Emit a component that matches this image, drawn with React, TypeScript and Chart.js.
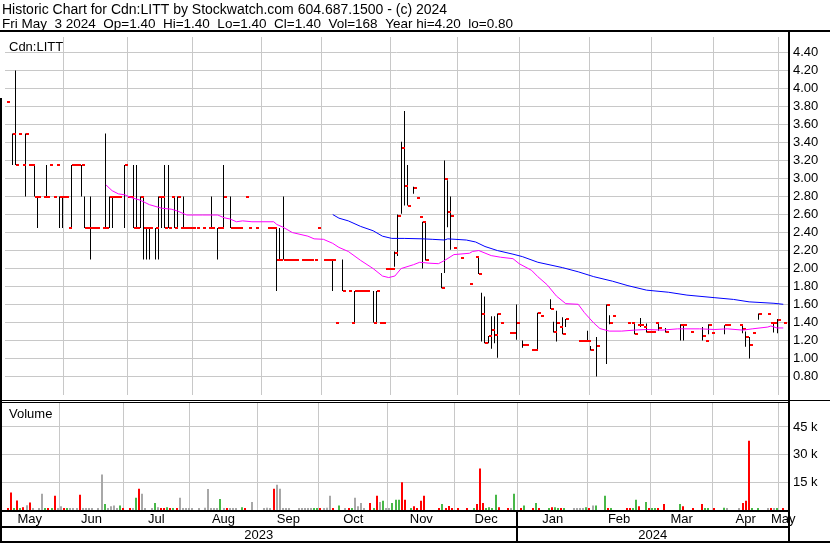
import React, { useEffect, useRef } from 'react';
import { Chart, registerables } from 'chart.js';

Chart.register(...registerables);

const FONT = '"Liberation Sans", Arial, sans-serif';

const headerLine1 = 'Historic Chart for Cdn:LITT by Stockwatch.com 604.687.1500 - (c) 2024';
const headerLine2 = 'Fri May  3 2024  Op=1.40  Hi=1.40  Lo=1.40  Cl=1.40  Vol=168  Year hi=4.20  lo=0.80';
const symbolLabel = 'Cdn:LITT';
const volumeLabel = 'Volume';

// x axis: trading-day index
const xMin = -0.48;
const xMax = 251.52;
const monthLabels = ['May', 'Jun', 'Jul', 'Aug', 'Sep', 'Oct', 'Nov', 'Dec', 'Jan', 'Feb', 'Mar', 'Apr', 'May'];
const monthStarts = [18.5, 39, 60, 82, 101.5, 123.5, 145, 165, 187.5, 207.5, 227.5, 248.5];
const yearLabels = ['2023', '2024'];
const yearStarts = [165];

// price axis
const priceMin = 0.595;
const priceMax = 4.573;
const priceTicks = [0.8, 1.0, 1.2, 1.4, 1.6, 1.8, 2.0, 2.2, 2.4, 2.6, 2.8, 3.0, 3.2, 3.4, 3.6, 3.8, 4.0, 4.2, 4.4];

// volume axis
const volMax = 58000;
const volTicks = [15000, 30000, 45000];

// daily bars
const barDay = [
  0, 2, 3, 4, 5, 6, 7, 8, 9, 10,
  12, 13, 14, 15, 16, 17, 18, 19, 20, 21,
  22, 23, 24, 25, 26, 27, 28, 29, 31, 32,
  33, 34, 35, 36, 38, 39, 40, 41, 42, 43,
  44, 45, 46, 48, 49, 50, 51, 52, 53, 54,
  55, 56, 57, 58, 59, 60, 61, 63, 65, 66,
  68, 69, 70, 72, 73, 74, 75, 77, 78, 80,
  84, 85, 86, 87, 88, 89, 90, 91, 92, 93,
  95, 96, 97, 98, 99, 100, 102, 103, 104, 105,
  106, 108, 110, 111, 112, 113, 114, 115, 116, 118,
  119, 120, 121, 122, 123, 124, 125, 126, 127, 128,
  129, 131, 132, 133, 134, 135, 140, 141, 142, 143,
  144, 146, 149, 151, 152, 153, 154, 155, 156, 157,
  158, 159, 162, 163, 164, 166, 167, 169, 170, 171,
  172, 175, 176, 177, 178, 179, 180, 184, 185, 186,
  187, 188, 190, 193, 194, 195, 200, 201, 202, 203,
  204, 205, 206, 207, 208, 209, 210, 212, 217, 218,
  220, 224, 225, 226, 227, 231, 232, 236, 237, 238,
  239, 240, 242, 245, 246, 247, 248, 250,
];
const barHigh = [
  3.85, 3.5, 4.2, 3.5, 3.15, 3.5, 3.15, 3.15, 3.15, 2.8,
  2.8, 3.15, 3.15, 2.8, 3.15, 2.8, 2.8, 2.8, 2.45, 3.15,
  3.15, 3.15, 3.15, 2.8, 2.45, 2.8, 2.45, 2.45, 2.45, 3.5,
  2.8, 2.8, 2.8, 2.8, 3.15, 2.8, 2.8, 3.15, 3.15, 2.8,
  2.8, 2.45, 2.45, 2.45, 2.8, 2.8, 3.15, 3.15, 2.8, 2.8,
  2.8, 2.45, 2.8, 2.45, 2.45, 2.45, 2.45, 2.45, 2.45, 2.8,
  2.45, 2.45, 3.15, 2.8, 2.45, 2.45, 2.45, 2.8, 2.45, 2.45,
  2.45, 2.45, 2.45, 2.45, 2.45, 2.8, 2.1, 2.1, 2.1, 2.1,
  2.1, 2.1, 2.1, 2.1, 2.1, 2.45, 2.1, 2.1, 2.1, 2.1,
  1.4, 2.1, 1.75, 1.4, 1.75, 1.75, 1.75, 1.75, 1.75, 1.75,
  1.75, 1.4, 1.4, 2.0, 2.0, 2.0, 2.19, 2.6, 3.41, 3.75,
  3.15, 2.91, 2.78, 2.57, 2.52, 2.52, 1.95, 3.2, 2.98, 2.8,
  2.23, 2.12, 1.83, 2.13, 2.14, 1.73, 1.69, 1.25, 1.47, 1.47,
  1.5, 1.39, 1.28, 1.28, 1.6, 1.2, 1.15, 1.09, 1.09, 1.51,
  1.47, 1.66, 1.41, 1.53, 1.35, 1.46, 1.44, 1.19, 1.19, 1.19,
  1.31, 1.14, 1.24, 1.6, 1.48, 1.47, 1.39, 1.39, 1.39, 1.37,
  1.45, 1.35, 1.39, 1.29, 1.29, 1.39, 1.39, 1.34, 1.38, 1.38,
  1.29, 1.35, 1.2, 1.38, 1.28, 1.37, 1.37, 1.37, 1.37, 1.3,
  1.24, 1.28, 1.5, 1.5, 1.39, 1.39, 1.44, 1.4,
];
const barLow = [
  3.85, 3.15, 3.15, 3.5, 3.15, 2.8, 3.15, 3.15, 2.8, 2.45,
  2.8, 2.8, 3.15, 2.8, 3.15, 2.45, 2.45, 2.8, 2.45, 2.45,
  3.15, 3.15, 2.8, 2.45, 2.45, 2.1, 2.45, 2.45, 2.45, 2.45,
  2.45, 2.45, 2.8, 2.8, 2.45, 2.8, 2.8, 2.45, 2.45, 2.45,
  2.1, 2.1, 2.1, 2.1, 2.1, 2.45, 2.45, 2.45, 2.8, 2.45,
  2.45, 2.45, 2.45, 2.45, 2.45, 2.45, 2.45, 2.45, 2.45, 2.45,
  2.1, 2.45, 2.45, 2.45, 2.45, 2.45, 2.45, 2.8, 2.45, 2.45,
  2.45, 2.45, 2.45, 1.75, 2.1, 2.1, 2.1, 2.1, 2.1, 2.1,
  2.1, 2.1, 2.1, 2.1, 2.1, 2.45, 2.1, 2.1, 2.1, 1.75,
  1.4, 1.75, 1.75, 1.4, 1.4, 1.75, 1.75, 1.75, 1.75, 1.4,
  1.4, 1.4, 1.4, 2.0, 2.0, 2.0, 2.02, 2.14, 2.61, 2.7,
  2.7, 2.83, 2.78, 2.57, 2.0, 2.09, 1.78, 1.95, 2.46, 2.21,
  2.23, 2.12, 1.83, 2.13, 1.94, 1.19, 1.17, 1.17, 1.11, 1.17,
  1.01, 1.39, 1.28, 1.28, 1.21, 1.12, 1.15, 1.09, 1.09, 1.09,
  1.47, 1.55, 1.29, 1.19, 1.35, 1.27, 1.35, 1.19, 1.19, 1.19,
  1.19, 1.09, 0.8, 0.94, 1.38, 1.47, 1.39, 1.39, 1.27, 1.37,
  1.35, 1.35, 1.29, 1.29, 1.29, 1.39, 1.31, 1.29, 1.2, 1.2,
  1.29, 1.2, 1.2, 1.27, 1.28, 1.27, 1.37, 1.37, 1.28, 1.13,
  1.0, 1.28, 1.43, 1.5, 1.39, 1.29, 1.28, 1.4,
];
const barClose = [
  3.85, 3.5, 3.15, 3.5, 3.15, 3.5, 3.15, 3.15, 2.8, 2.8,
  2.8, 2.8, 3.15, 2.8, 3.15, 2.8, 2.8, 2.8, 2.45, 3.15,
  3.15, 3.15, 3.15, 2.45, 2.45, 2.45, 2.45, 2.45, 2.45, 2.45,
  2.8, 2.8, 2.8, 2.8, 3.15, 2.8, 2.8, 2.45, 2.45, 2.8,
  2.45, 2.45, 2.45, 2.45, 2.8, 2.8, 2.45, 2.45, 2.8, 2.45,
  2.8, 2.45, 2.45, 2.45, 2.45, 2.45, 2.45, 2.45, 2.45, 2.45,
  2.45, 2.45, 2.8, 2.45, 2.45, 2.45, 2.45, 2.8, 2.45, 2.45,
  2.45, 2.45, 2.45, 2.1, 2.1, 2.1, 2.1, 2.1, 2.1, 2.1,
  2.1, 2.1, 2.1, 2.1, 2.1, 2.45, 2.1, 2.1, 2.1, 2.1,
  1.4, 1.75, 1.75, 1.4, 1.75, 1.75, 1.75, 1.75, 1.75, 1.4,
  1.75, 1.4, 1.4, 2.0, 2.0, 2.0, 2.17, 2.58, 3.34, 2.92,
  2.7, 2.9, 2.78, 2.57, 2.52, 2.09, 1.78, 2.99, 2.63, 2.58,
  2.23, 2.12, 1.83, 2.13, 1.94, 1.5, 1.17, 1.25, 1.32, 1.26,
  1.5, 1.39, 1.28, 1.28, 1.39, 1.15, 1.15, 1.09, 1.09, 1.51,
  1.47, 1.55, 1.3, 1.39, 1.35, 1.27, 1.44, 1.19, 1.19, 1.19,
  1.19, 1.1, 1.14, 1.6, 1.39, 1.47, 1.39, 1.39, 1.27, 1.37,
  1.37, 1.35, 1.29, 1.29, 1.29, 1.39, 1.34, 1.29, 1.37, 1.37,
  1.29, 1.25, 1.2, 1.37, 1.28, 1.37, 1.37, 1.37, 1.33, 1.24,
  1.15, 1.28, 1.5, 1.5, 1.39, 1.39, 1.43, 1.4,
];

// moving averages
const maFastDay = [32, 34, 36, 38, 40, 43, 46, 50, 53, 55, 58, 63, 68, 70, 72, 74, 76, 79, 86, 87, 89, 92, 97, 99, 102, 105, 107, 110, 114, 118, 121, 123, 125, 127, 131, 133, 136, 139, 141, 144, 149, 150, 152, 156, 159, 163, 165, 169, 171, 174, 177, 180, 184, 186, 189, 191, 194, 198, 202, 206, 211, 216, 223, 228, 232, 237, 240, 245, 246, 248, 250];
const maFastValue = [2.93, 2.865, 2.83, 2.82, 2.79, 2.76, 2.71, 2.67, 2.66, 2.64, 2.595, 2.595, 2.595, 2.565, 2.55, 2.52, 2.53, 2.52, 2.52, 2.49, 2.46, 2.4, 2.36, 2.33, 2.325, 2.28, 2.235, 2.19, 2.09, 2.0, 1.917, 1.9, 1.917, 2.0, 2.043, 2.07, 2.06, 2.054, 2.09, 2.155, 2.17, 2.19, 2.2, 2.144, 2.126, 2.11, 2.054, 1.98, 1.91, 1.82, 1.694, 1.61, 1.603, 1.51, 1.395, 1.333, 1.305, 1.305, 1.316, 1.323, 1.316, 1.33, 1.33, 1.323, 1.33, 1.316, 1.33, 1.35, 1.362, 1.34, 1.34];
const maSlowDay = [105, 107, 110, 114, 118, 121, 124, 128, 134, 137, 141, 142, 148, 151, 154, 158, 163, 166, 171, 179, 184, 189, 195, 200, 206, 213, 219, 228, 234, 239, 247, 250];
const maSlowValue = [2.6, 2.56, 2.53, 2.468, 2.42, 2.36, 2.335, 2.335, 2.33, 2.325, 2.317, 2.33, 2.317, 2.295, 2.245, 2.2, 2.16, 2.133, 2.07, 2.01, 1.964, 1.91, 1.86, 1.81, 1.76, 1.737, 1.705, 1.676, 1.657, 1.63, 1.614, 1.603];

// volume: day, shares, colour code (u = up, d = down, n = unchanged)
const volDay = [
  2, 3, 4, 5, 6, 7, 8, 9, 10, 12, 13, 14, 15, 16, 17, 18, 19, 20, 21, 22, 23, 24, 25, 26, 27, 28, 29, 31, 32, 33,
  34, 35, 36, 37, 38, 39, 41, 42, 43, 44, 45, 46, 48, 49, 50, 51, 52, 53, 54, 55, 56, 57, 58, 59, 60, 61, 63, 65, 66, 67,
  68, 69, 70, 71, 72, 73, 74, 75, 77, 78, 80, 84, 85, 86, 87, 88, 89, 90, 91, 92, 95, 96, 97, 98, 99, 100, 101, 102, 103, 104,
  105, 106, 108, 110, 111, 112, 113, 114, 115, 116, 118, 119, 120, 121, 122, 123, 124, 125, 126, 127, 128, 129, 131, 132, 133, 134, 135, 140, 141, 142,
  143, 144, 146, 149, 151, 152, 153, 154, 155, 156, 157, 158, 159, 162, 163, 164, 166, 167, 170, 171, 172, 175, 176, 177, 178, 179, 180, 183, 184, 185,
  186, 187, 188, 189, 190, 193, 194, 195, 200, 201, 202, 203, 204, 206, 207, 208, 209, 210, 212, 217, 218, 221, 224, 225, 226, 228, 231, 232, 236, 237,
  238, 239, 240, 242, 245, 246, 247, 248, 250,
];
const volValue = [
  500, 9500, 500, 5100, 500, 1500, 2600, 4000, 500, 500, 8800, 500, 500, 500, 7700, 500, 2000, 500, 500, 500, 500, 500, 8200, 500, 500, 500, 500, 500, 19200, 3300,
  500, 2000, 2500, 500, 2500, 500, 500, 500, 6600, 11500, 8800, 500, 500, 3800, 1500, 500, 500, 1500, 500, 500, 500, 6600, 500, 500, 500, 500, 500, 1200, 11400, 500,
  500, 500, 6000, 500, 500, 500, 500, 500, 1500, 500, 4400, 500, 1200, 500, 11500, 13700, 11500, 500, 500, 500, 800, 800, 800, 800, 800, 800, 800, 800, 800, 1200,
  7700, 500, 2500, 500, 500, 800, 6600, 2000, 3800, 500, 3800, 800, 7700, 4400, 5000, 800, 800, 3800, 5500, 5500, 15000, 5500, 500, 2000, 500, 5000, 7700, 500, 3300, 500,
  2200, 500, 500, 500, 500, 3300, 22500, 3800, 500, 1500, 500, 8200, 1500, 500, 500, 8800, 500, 2500, 500, 3800, 500, 500, 1500, 1500, 500, 500, 500, 500, 500, 500,
  500, 1500, 500, 2500, 2500, 7700, 500, 500, 500, 500, 500, 5500, 2000, 4400, 500, 500, 500, 500, 3300, 3300, 2000, 500, 3300, 500, 500, 500, 1200, 500, 500, 3800,
  5000, 37500, 500, 500, 500, 500, 500, 500, 168,
];
const volDir = [
  'd', 'd', 'u', 'd', 'u', 'd', 'n', 'd', 'n', 'n', 'n', 'u', 'd', 'u', 'd', 'n', 'n', 'd', 'u', 'n', 'n', 'n', 'd', 'n', 'n', 'n', 'n', 'n', 'n', 'u',
  'n', 'n', 'n', 'n', 'u', 'd', 'd', 'n', 'u', 'd', 'n', 'n', 'n', 'u', 'n', 'd', 'd', 'u', 'd', 'u', 'd', 'n', 'n', 'n', 'n', 'n', 'n', 'n', 'n', 'n',
  'n', 'n', 'u', 'n', 'd', 'n', 'n', 'n', 'u', 'd', 'n', 'n', 'n', 'n', 'd', 'n', 'n', 'n', 'n', 'n', 'n', 'n', 'n', 'n', 'n', 'u', 'u', 'd', 'n', 'n',
  'n', 'd', 'u', 'n', 'd', 'u', 'n', 'n', 'n', 'n', 'd', 'u', 'd', 'n', 'u', 'n', 'n', 'u', 'u', 'u', 'd', 'd', 'u', 'd', 'd', 'd', 'd', 'd', 'u', 'd',
  'd', 'd', 'd', 'd', 'u', 'd', 'd', 'd', 'u', 'u', 'u', 'u', 'd', 'd', 'n', 'u', 'd', 'u', 'd', 'u', 'd', 'u', 'd', 'u', 'u', 'd', 'u', 'n', 'n', 'n',
  'n', 'u', 'd', 'n', 'u', 'u', 'd', 'u', 'd', 'd', 'u', 'u', 'd', 'u', 'd', 'u', 'u', 'd', 'd', 'u', 'd', 'd', 'd', 'u', 'u', 'd', 'u', 'n', 'n', 'd',
  'd', 'd', 'u', 'u', 'n', 'd', 'n', 'u', 'd',
];

const dirColour: Record<string, string> = { u: '#48b848', d: '#ff0000', n: '#a8a8a8' };
const GRID = '#c8c8c8';

function xScaleOptions(labelHeight: number) {
  return {
    type: 'linear' as const,
    min: xMin,
    max: xMax,
    offset: false,
    grid: { color: GRID, lineWidth: 1, drawTicks: false, offset: false },
    border: { display: false },
    ticks: { display: false },
    afterBuildTicks: (s: any) => {
      s.ticks = monthStarts.map((v) => ({ value: v }));
    },
    afterFit: (s: any) => {
      s.height = labelHeight;
      s.paddingLeft = 0;
      s.paddingRight = 0;
      s.paddingTop = 0;
      s.paddingBottom = 0;
    },
  };
}

// keeps thin bars and tick marks on whole pixels so they stay crisp
const pixelSnapPlugin = {
  id: 'pixelSnap',
  beforeDatasetsDraw(chart: any) {
    chart.data.datasets.forEach((ds: any, i: number) => {
      if (ds.snap === undefined) return;
      const meta = chart.getDatasetMeta(i);
      meta.data.forEach((el: any) => {
        el.x = Math.round(el.x - ds.snap) + ds.snap;
        if (ds.snapY) el.y = Math.round(el.y);
      });
    });
  },
};

export default function App() {
  const headerRef = useRef<HTMLCanvasElement>(null);
  const priceRef = useRef<HTMLCanvasElement>(null);
  const volRef = useRef<HTMLCanvasElement>(null);

  useEffect(() => {
    document.body.style.margin = '0';

    const hc = headerRef.current!;
    const hctx = hc.getContext('2d')!;
    hctx.clearRect(0, 0, hc.width, hc.height);
    hctx.fillStyle = '#000';
    hctx.textBaseline = 'alphabetic';
    hctx.font = `14px ${FONT}`;
    hctx.fillText(headerLine1, 2, 13.5);
    hctx.font = `13.5px ${FONT}`;
    hctx.fillText(headerLine2, 2, 27.5);

    const tick = document.createElement('canvas');
    tick.width = 7;
    tick.height = 2;
    const tctx = tick.getContext('2d')!;
    tctx.fillStyle = '#ff0000';
    tctx.fillRect(4, 0, 3, 2);

    const priceLabelPlugin = {
      id: 'priceLabel',
      afterDraw(chart: any) {
        const { ctx } = chart;
        ctx.save();
        ctx.fillStyle = '#000';
        ctx.font = `13px ${FONT}`;
        ctx.textAlign = 'left';
        ctx.textBaseline = 'alphabetic';
        ctx.fillText(symbolLabel, 9, chart.chartArea.top + 14);
        ctx.restore();
      },
    };

    const price = new Chart(priceRef.current!, {
      type: 'bar',
      data: {
        datasets: [
          {
            type: 'bar',
            data: barDay.map((d, i) => ({ x: d, y: [barLow[i], barHigh[i]] })) as any,
            backgroundColor: '#000000',
            barThickness: 1,
            inflateAmount: 0,
            order: 4,
            snap: 0.5,
          } as any,
          {
            type: 'line',
            data: barDay.map((d, i) => ({ x: d, y: barClose[i] })),
            showLine: false,
            pointStyle: tick,
            pointRadius: 1,
            order: 3,
            snap: 0.5,
            snapY: true,
          } as any,
          {
            type: 'line',
            data: maSlowDay.map((d, i) => ({ x: d, y: maSlowValue[i] })),
            borderColor: '#0000ff',
            borderWidth: 1,
            pointRadius: 0,
            tension: 0,
            order: 2,
          } as any,
          {
            type: 'line',
            data: maFastDay.map((d, i) => ({ x: d, y: maFastValue[i] })),
            borderColor: '#ff00ff',
            borderWidth: 1,
            pointRadius: 0,
            tension: 0,
            order: 1,
          } as any,
        ],
      },
      options: {
        animation: false,
        responsive: false,
        maintainAspectRatio: false,
        events: [],
        layout: { padding: 0 },
        plugins: { legend: { display: false }, tooltip: { enabled: false } },
        scales: {
          x: xScaleOptions(0) as any,
          y: {
            type: 'linear',
            position: 'right',
            min: priceMin,
            max: priceMax,
            grid: { color: GRID, lineWidth: 1, drawTicks: false },
            border: { display: false },
            ticks: {
              padding: 5,
              color: '#000',
              font: { family: FONT, size: 13 },
              callback: (v: any) => Number(v).toFixed(2),
            },
            afterBuildTicks: (s: any) => {
              s.ticks = priceTicks.map((v) => ({ value: v }));
            },
            afterFit: (s: any) => {
              s.width = 42;
              s.paddingTop = 0;
              s.paddingBottom = 0;
            },
          } as any,
        },
      },
      plugins: [pixelSnapPlugin, priceLabelPlugin],
    });

    const bottomLabelsPlugin = {
      id: 'bottomLabels',
      afterDraw(chart: any) {
        const { ctx, chartArea } = chart;
        const xs = chart.scales.x;
        ctx.save();
        ctx.fillStyle = '#000';
        ctx.font = `13px ${FONT}`;
        ctx.textBaseline = 'alphabetic';
        ctx.textAlign = 'left';
        ctx.fillText(volumeLabel, 9, chartArea.top + 14.7);
        ctx.textAlign = 'center';
        const edges = [xMin, ...monthStarts, xMax];
        monthLabels.forEach((lab, i) => {
          const cx = (xs.getPixelForValue(edges[i]) + xs.getPixelForValue(edges[i + 1])) / 2;
          ctx.fillText(lab, cx, chartArea.bottom + 12.5);
        });
        const yEdges = [xMin, ...yearStarts, xMax];
        yearLabels.forEach((lab, i) => {
          const cx = (xs.getPixelForValue(yEdges[i]) + xs.getPixelForValue(yEdges[i + 1])) / 2;
          ctx.fillText(lab, cx, chartArea.bottom + 29);
        });
        yearStarts.forEach((v) => {
          const px = Math.round(xs.getPixelForValue(v));
          ctx.fillRect(px - 1, chartArea.bottom, 2, 33);
        });
        ctx.restore();
      },
    };

    const vol = new Chart(volRef.current!, {
      type: 'bar',
      data: {
        datasets: [
          {
            data: volDay.map((d, i) => ({ x: d, y: volValue[i] })) as any,
            backgroundColor: volDir.map((c) => dirColour[c]),
            barThickness: 2,
            minBarLength: 2,
            inflateAmount: 0,
            snap: 0,
          } as any,
        ],
      },
      options: {
        animation: false,
        responsive: false,
        maintainAspectRatio: false,
        events: [],
        layout: { padding: 0 },
        plugins: { legend: { display: false }, tooltip: { enabled: false } },
        scales: {
          x: xScaleOptions(33) as any,
          y: {
            type: 'linear',
            position: 'right',
            min: 0,
            max: volMax,
            grid: { color: GRID, lineWidth: 1, drawTicks: false },
            border: { display: false },
            ticks: {
              padding: 5,
              color: '#000',
              font: { family: FONT, size: 13 },
              callback: (v: any) => `${Number(v) / 1000} k`,
            },
            afterBuildTicks: (s: any) => {
              s.ticks = volTicks.map((v) => ({ value: v }));
            },
            afterFit: (s: any) => {
              s.width = 42;
              s.paddingTop = 0;
              s.paddingBottom = 0;
            },
          } as any,
        },
      },
      plugins: [pixelSnapPlugin, bottomLabelsPlugin],
    });

    return () => {
      price.destroy();
      vol.destroy();
    };
  }, []);

  const line = (left: number, top: number, width: number, height: number) => (
    <div style={{ position: 'absolute', left, top, width, height, background: '#000' }} />
  );

  return (
    <div style={{ position: 'absolute', left: 0, top: 0, width: 830, height: 543, background: '#fff', overflow: 'hidden' }}>
      <canvas ref={headerRef} width={830} height={30} style={{ position: 'absolute', left: 0, top: 0, display: 'block' }} />
      <div style={{ position: 'absolute', left: 0, top: 32, width: 830, height: 368 }}>
        <canvas ref={priceRef} width={830} height={368} style={{ display: 'block', width: 830, height: 368 }} />
      </div>
      <div style={{ position: 'absolute', left: 0, top: 403, width: 830, height: 140 }}>
        <canvas ref={volRef} width={830} height={140} style={{ display: 'block', width: 830, height: 140 }} />
      </div>
      {line(0, 30, 830, 2)}
      {line(0, 400, 830, 1)}
      {line(0, 402, 788, 1)}
      {line(0, 510, 788, 2)}
      {line(0, 526, 788, 2)}
      {line(0, 541, 830, 2)}
      {line(788, 30, 2, 513)}
      {line(0, 98, 2, 445)}
    </div>
  );
}
